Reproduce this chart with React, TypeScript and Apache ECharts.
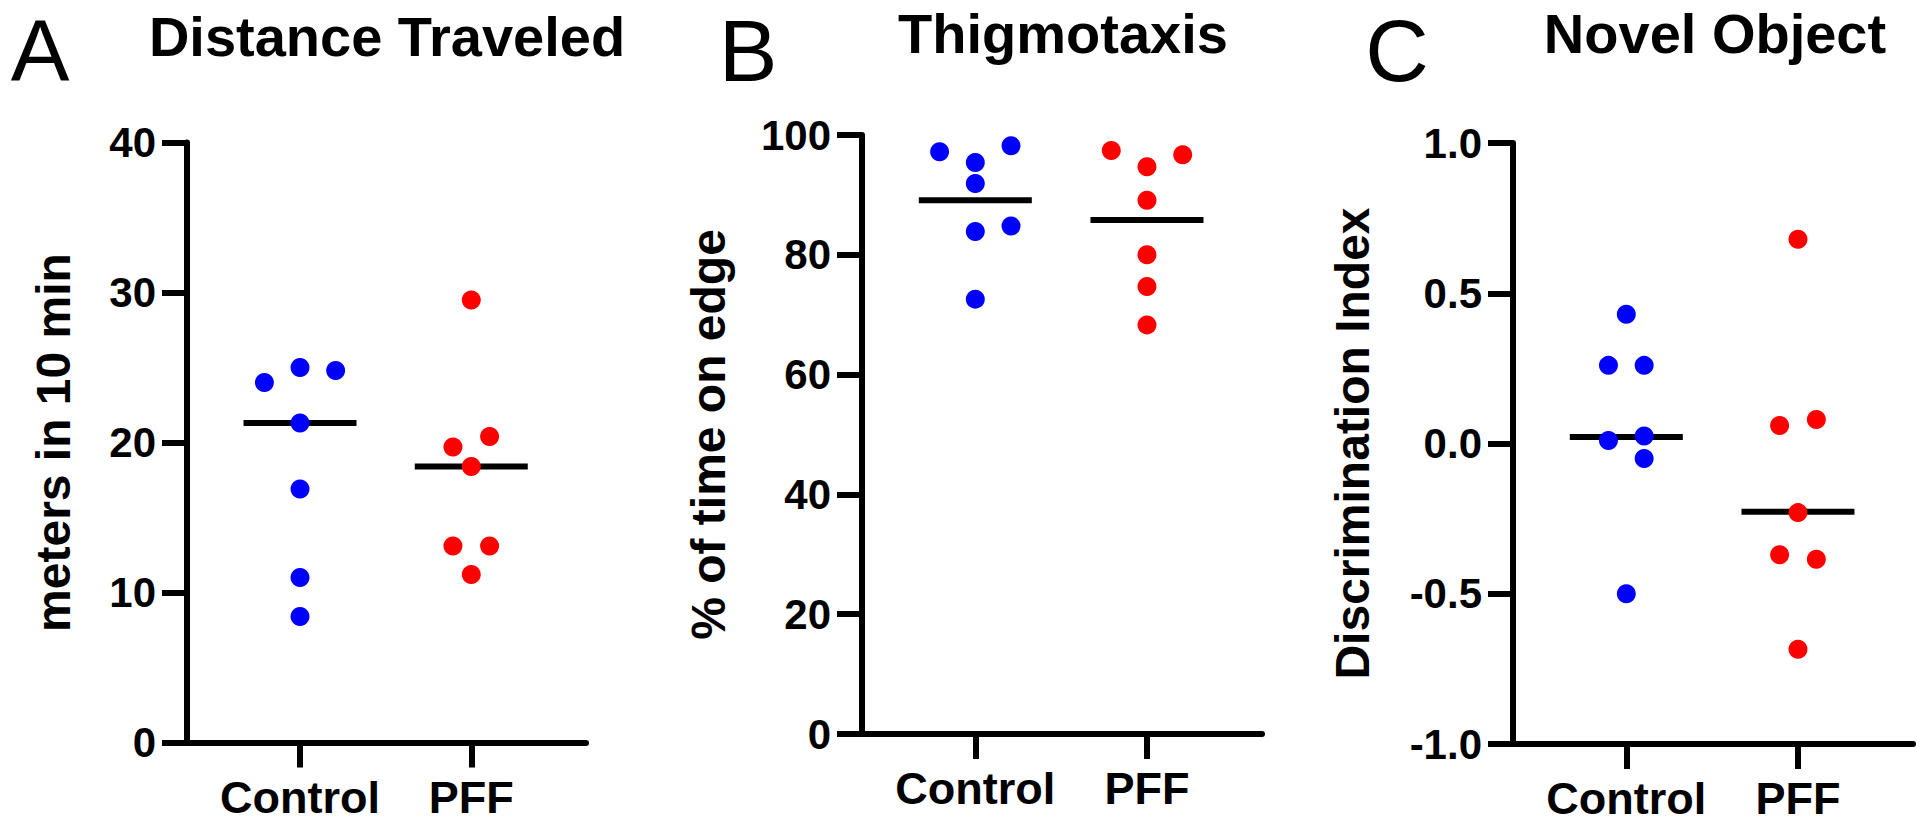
import React, { useEffect, useRef } from "react";
import * as echarts from "echarts";

// ---------- data ----------
const categories = ["Control", "PFF"];

// Panel A: Distance Traveled (meters in 10 min)
const aControl = [24.0, 25.0, 24.8, 21.3, 16.9, 11.0, 8.4];
const aControlJitter = [-0.208, 0, 0.208, 0, 0, 0, 0];
const aPFF = [29.5, 19.7, 20.4, 18.4, 13.1, 13.1, 11.2];
const aPFFJitter = [0, -0.107, 0.107, 0, -0.107, 0.107, 0];
const aLines = [21.3, 18.4];

// Panel B: Thigmotaxis (% of time on edge)
const bControl = [97.2, 95.4, 98.2, 91.9, 83.9, 84.8, 72.6];
const bControlJitter = [-0.208, 0, 0.208, 0, 0, 0.208, 0];
const bPFF = [97.4, 96.7, 94.7, 89.1, 80.0, 74.7, 68.3];
const bPFFJitter = [-0.208, 0.208, 0, 0, 0, 0, 0];
const bLines = [89.1, 85.8];

// Panel C: Novel Object (Discrimination Index)
const cControl = [0.43, 0.26, 0.26, 0.01, 0.025, -0.05, -0.5];
const cControlJitter = [0, -0.104, 0.104, -0.104, 0.104, 0.104, 0];
const cPFF = [0.68, 0.06, 0.08, -0.23, -0.37, -0.385, -0.685];
const cPFFJitter = [0, -0.107, 0.107, 0, -0.107, 0.107, 0];
const cLines = [0.022, -0.227];

const panelLetters = ["A", "B", "C"];
const panelTitles = ["Distance Traveled", "Thigmotaxis", "Novel Object"];
const yNames = ["meters in 10 min", "% of time on edge", "Discrimination Index"];
const yMins = [0, 0, -1];
const yMaxs = [40, 100, 1];
const yIntervals = [10, 20, 0.5];

// ---------- layout ----------
const W = 1920;
const H = 823;
const FONT = "'Liberation Sans', Arial, Helvetica, sans-serif";

const grids = [
  { left: 187, top: 142.5, width: 399, height: 600 },
  { left: 862, top: 135, width: 400, height: 599 },
  { left: 1513, top: 143, width: 400, height: 601 },
];
const nameGaps = [110, 130, 137];
const letterX = [40, 748, 1397];
const letterY = 50;
const titleX = [387, 1063, 1715];
const titleY = [36.5, 33.5, 33.5];

function pairs(jit: number[], vals: number[], base: number) {
  return vals.map((v, i) => [base + jit[i], v]);
}

function buildOption() {
  const sets = [
    { c: aControl, cj: aControlJitter, p: aPFF, pj: aPFFJitter, l: aLines },
    { c: bControl, cj: bControlJitter, p: bPFF, pj: bPFFJitter, l: bLines },
    { c: cControl, cj: cControlJitter, p: cPFF, pj: cPFFJitter, l: cLines },
  ];
  const xAxis: any[] = [];
  const yAxis: any[] = [];
  const series: any[] = [];
  const graphic: any[] = [];

  sets.forEach((s, i) => {
    xAxis.push({
      type: "value",
      gridIndex: i,
      min: -0.66,
      max: 1.67,
      axisLine: { show: true, onZero: false, lineStyle: { color: "#000", width: 6 } },
      axisTick: { show: true, customValues: [0, 1], length: 25, lineStyle: { color: "#000", width: 6 } },
      axisLabel: {
        show: true,
        customValues: [0, 1],
        formatter: (v: number) => categories[Math.round(v)] ?? "",
        margin: 32,
        fontSize: 45,
        fontWeight: "bold",
        fontFamily: FONT,
        color: "#000",
      },
      splitLine: { show: false },
    });
    yAxis.push({
      type: "value",
      gridIndex: i,
      min: yMins[i],
      max: yMaxs[i],
      interval: yIntervals[i],
      name: yNames[i],
      nameLocation: "middle",
      nameGap: nameGaps[i],
      nameTextStyle: { fontSize: 48, fontWeight: "bold", fontFamily: FONT, color: "#000" },
      axisLine: { show: true, onZero: false, lineStyle: { color: "#000", width: 6 } },
      axisTick: { show: true, length: 25, lineStyle: { color: "#000", width: 6 } },
      axisLabel: {
        margin: 31,
        fontSize: 42,
        fontWeight: "bold",
        fontFamily: FONT,
        color: "#000",
        formatter: (v: number) => (i === 2 ? v.toFixed(1) : String(v)),
      },
      splitLine: { show: false },
    });
    series.push({
      type: "scatter",
      xAxisIndex: i,
      yAxisIndex: i,
      symbol: "rect",
      symbolSize: [113, 6],
      itemStyle: { color: "#000", opacity: 1 },
      data: s.l.map((v, k) => [k, v]),
      z: 2,
      silent: true,
    });
    series.push({
      type: "scatter",
      xAxisIndex: i,
      yAxisIndex: i,
      symbol: "circle",
      symbolSize: 19,
      itemStyle: { color: "#0000FF", opacity: 1 },
      data: pairs(s.cj, s.c, 0),
      z: 3,
      silent: true,
    });
    series.push({
      type: "scatter",
      xAxisIndex: i,
      yAxisIndex: i,
      symbol: "circle",
      symbolSize: 19,
      itemStyle: { color: "#FF0000", opacity: 1 },
      data: pairs(s.pj, s.p, 1),
      z: 3,
      silent: true,
    });
    graphic.push({
      type: "text",
      x: letterX[i],
      y: letterY,
      silent: true,
      style: {
        text: panelLetters[i],
        fontSize: 88,
        fontWeight: "normal",
        fontFamily: FONT,
        fill: "#000",
        align: "center",
        verticalAlign: "middle",
      },
    });
    graphic.push({
      type: "text",
      x: titleX[i],
      y: titleY[i],
      silent: true,
      style: {
        text: panelTitles[i],
        fontSize: 56,
        fontWeight: "bold",
        fontFamily: FONT,
        fill: "#000",
        align: "center",
        verticalAlign: "middle",
      },
    });
  });

  return {
    animation: false,
    backgroundColor: "#fff",
    grid: grids.map((g) => ({ ...g, containLabel: false })),
    xAxis,
    yAxis,
    series,
    graphic,
  };
}

export default function App() {
  const ref = useRef<HTMLDivElement>(null);
  useEffect(() => {
    if (!ref.current) return;
    const chart = echarts.init(ref.current, null, { renderer: "svg" });
    chart.setOption(buildOption() as any);
    return () => chart.dispose();
  }, []);
  return (
    <div
      style={{
        position: "fixed",
        left: 0,
        top: 0,
        width: W + "px",
        height: H + "px",
        overflow: "hidden",
        background: "#fff",
      }}
    >
      <div ref={ref} style={{ width: W + "px", height: H + "px" }} />
    </div>
  );
}
